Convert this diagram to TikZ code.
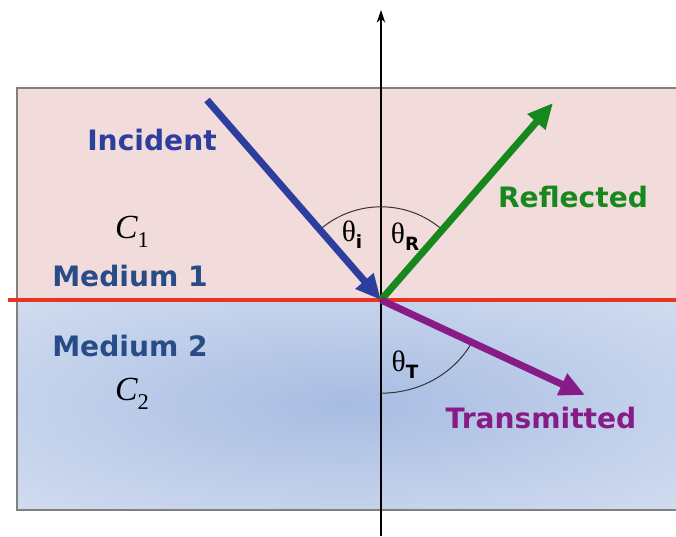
\documentclass[tikz,border=0pt]{standalone}
\usepackage{fontspec}
\setmainfont{DejaVu Sans}
\newfontfamily\grkfont{Liberation Serif}
\usetikzlibrary{arrows.meta}
\definecolor{incblue}{RGB}{45,62,158}
\definecolor{reflgreen}{RGB}{22,136,30}
\definecolor{transpurple}{RGB}{135,28,135}
\definecolor{medblue}{RGB}{40,76,136}
\definecolor{bordred}{RGB}{232,52,32}
\definecolor{pinkone}{RGB}{242,220,219}
\definecolor{bluein}{RGB}{168,188,226}
\definecolor{blueout}{RGB}{226,233,245}
\pgfdeclareradialshading{mediumtwo}{\pgfpoint{0bp}{0bp}}{%
  color(0bp)=(bluein); color(50bp)=(blueout); color(72bp)=(blueout)}
\tikzset{
  ray/.style={line width=5pt,-{Triangle[length=18pt,width=16pt]}},
  lbl/.style={font=\fontsize{20}{24}\selectfont\bfseries},
  anglearc/.style={line width=0.7pt,black!80}}
\newcommand{\thlabel}[4]{% x, y, name, subscript   (angle label)
  \node[inner sep=0] (#3) at (#1,#2) {{\grkfont\fontsize{21}{21}\selectfont θ}%
    \raisebox{-5pt}{\fontsize{13}{13}\selectfont\bfseries #4}};}
\newcommand{\speed}[4]{% x, y, name, index   (wave speed C_n)
  \node[inner sep=0,font=\grkfont] (#3) at (#1,#2) {{\fontsize{24}{24}\selectfont\itshape C}%
    \raisebox{-6pt}{\fontsize{16}{16}\selectfont #4}};}

\begin{document}
\begin{tikzpicture}[>=stealth]
  \useasboundingbox (0,0) rectangle (16.9,13.4);
  % two media
  \fill[pinkone] (0.425,5.9) rectangle (16.9,11.2);
  \shade[shading=mediumtwo] (0.425,0.65) rectangle (16.9,5.9);
  \draw[gray,line width=0.8pt] (16.9,11.2) -- (0.425,11.2) -- (0.425,0.65) -- (16.9,0.65);
  % interface and normal
  \coordinate (O) at (9.525,5.9);
  \coordinate (ifl) at (0.2,5.9);
  \coordinate (ifr) at (16.9,5.9);
  \coordinate (axbot) at (9.525,0);
  \coordinate (axtop) at (9.525,13.15);
  \draw[bordred,line width=2.2pt] (ifl) -- (ifr);
  \draw[line width=1.1pt,-{Stealth[length=9pt,width=6pt]}] (axbot) -- (axtop);
  % angle arcs
  \draw[anglearc] (O) ++(131:2.33) arc[start angle=131,end angle=49,radius=2.33];
  \draw[anglearc] (O) ++(0,-2.33) arc[start angle=-90,end angle=-26,x radius=2.55,y radius=2.33];
  % rays
  \coordinate (inc) at (5.175,10.9);
  \coordinate (refl) at (13.825,10.825);
  \coordinate (trans) at (14.625,3.525);
  \draw[ray,incblue] (inc) -- (O);
  \draw[ray,reflgreen] (O) -- (refl);
  \draw[ray,transpurple] (O) -- (trans);
  % labels
  \node[lbl,text=incblue] (incl) at (3.8,9.9) {Incident};
  \node[lbl,text=reflgreen] (refll) at (14.325,8.475) {Reflected};
  \node[lbl,text=transpurple] (transl) at (13.525,2.95) {Transmitted};
  \node[lbl,text=medblue] (medone) at (3.25,6.5) {Medium 1};
  \node[lbl,text=medblue] (medtwo) at (3.25,4.75) {Medium 2};
  \speed{3.3}{7.6}{cone}{1}
  \speed{3.3}{3.55}{ctwo}{2}
  \thlabel{8.8}{7.525}{thi}{i}
  \thlabel{10.125}{7.475}{thr}{R}
  \thlabel{10.125}{4.275}{tht}{T}
\end{tikzpicture}
\end{document}
